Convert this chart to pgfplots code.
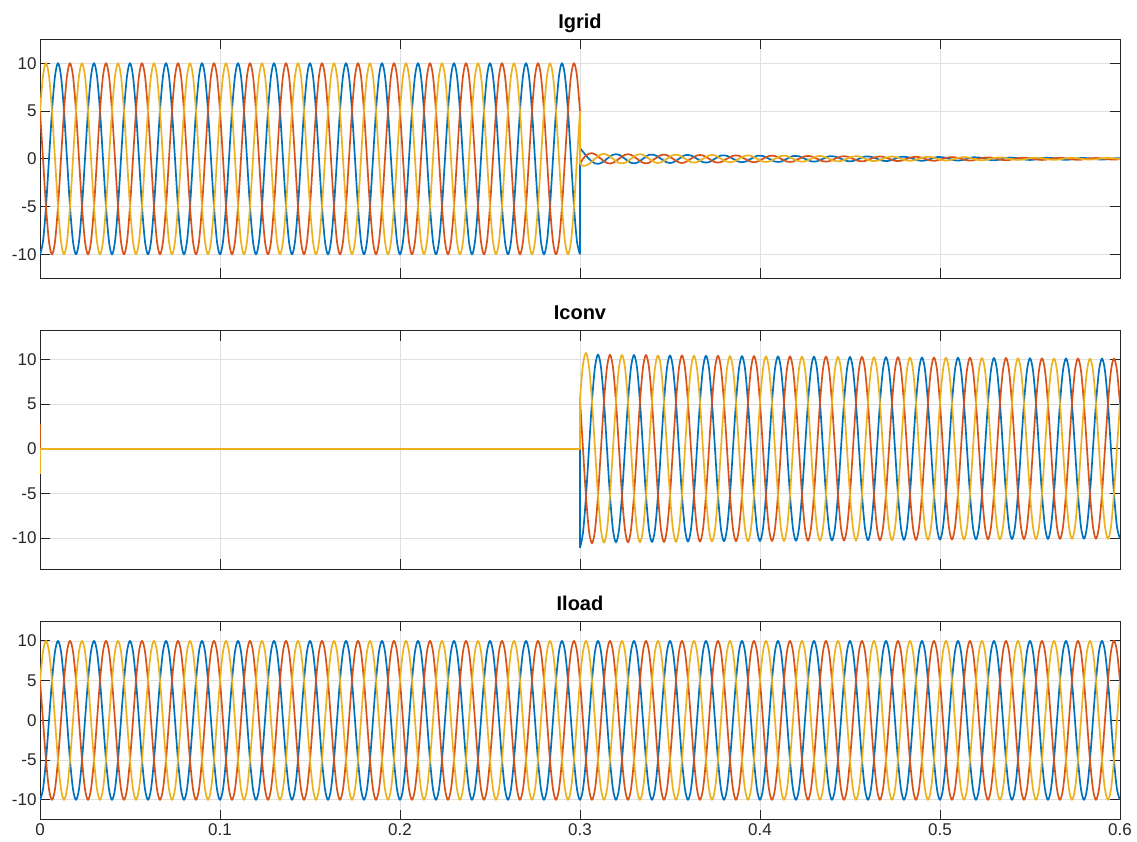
\documentclass[border=0pt]{standalone}
\usepackage{pgfplots}
\usepackage{pgfplotstable}
\pgfplotsset{compat=1.18}
\usepackage{fontspec}
\setmainfont{Liberation Sans}
\definecolor{mblue}{rgb}{0,0.447,0.741}
\definecolor{mred}{rgb}{0.85,0.325,0.098}
\definecolor{myel}{rgb}{0.929,0.694,0.125}
\definecolor{gridgray}{rgb}{0.875,0.875,0.875}
\definecolor{axisgray}{rgb}{0.15,0.15,0.15}

% n = sample index, t = n/600 s ; columns b r y = phases a b c
\pgfplotstableread{
n b r y
0 -10 5 5
1 -8.66 0 8.66
2 -5 -5 10
3 0 -8.66 8.66
4 5 -10 5
5 8.66 -8.66 0
6 10 -5 -5
7 8.66 0 -8.66
8 5 5 -10
9 0 8.66 -8.66
10 -5 10 -5
11 -8.66 8.66 0
12 -10 5 5
13 -8.66 0 8.66
14 -5 -5 10
15 0 -8.66 8.66
16 5 -10 5
17 8.66 -8.66 0
18 10 -5 -5
19 8.66 0 -8.66
20 5 5 -10
21 0 8.66 -8.66
22 -5 10 -5
23 -8.66 8.66 0
24 -10 5 5
25 -8.66 0 8.66
26 -5 -5 10
27 0 -8.66 8.66
28 5 -10 5
29 8.66 -8.66 0
30 10 -5 -5
31 8.66 0 -8.66
32 5 5 -10
33 0 8.66 -8.66
34 -5 10 -5
35 -8.66 8.66 0
36 -10 5 5
37 -8.66 0 8.66
38 -5 -5 10
39 0 -8.66 8.66
40 5 -10 5
41 8.66 -8.66 0
42 10 -5 -5
43 8.66 0 -8.66
44 5 5 -10
45 0 8.66 -8.66
46 -5 10 -5
47 -8.66 8.66 0
48 -10 5 5
49 -8.66 0 8.66
50 -5 -5 10
51 0 -8.66 8.66
52 5 -10 5
53 8.66 -8.66 0
54 10 -5 -5
55 8.66 0 -8.66
56 5 5 -10
57 0 8.66 -8.66
58 -5 10 -5
59 -8.66 8.66 0
60 -10 5 5
61 -8.66 0 8.66
62 -5 -5 10
63 0 -8.66 8.66
64 5 -10 5
65 8.66 -8.66 0
66 10 -5 -5
67 8.66 0 -8.66
68 5 5 -10
69 0 8.66 -8.66
70 -5 10 -5
71 -8.66 8.66 0
72 -10 5 5
73 -8.66 0 8.66
74 -5 -5 10
75 0 -8.66 8.66
76 5 -10 5
77 8.66 -8.66 0
78 10 -5 -5
79 8.66 0 -8.66
80 5 5 -10
81 0 8.66 -8.66
82 -5 10 -5
83 -8.66 8.66 0
84 -10 5 5
85 -8.66 0 8.66
86 -5 -5 10
87 0 -8.66 8.66
88 5 -10 5
89 8.66 -8.66 0
90 10 -5 -5
91 8.66 0 -8.66
92 5 5 -10
93 0 8.66 -8.66
94 -5 10 -5
95 -8.66 8.66 0
96 -10 5 5
97 -8.66 0 8.66
98 -5 -5 10
99 0 -8.66 8.66
100 5 -10 5
101 8.66 -8.66 0
102 10 -5 -5
103 8.66 0 -8.66
104 5 5 -10
105 0 8.66 -8.66
106 -5 10 -5
107 -8.66 8.66 0
108 -10 5 5
109 -8.66 0 8.66
110 -5 -5 10
111 0 -8.66 8.66
112 5 -10 5
113 8.66 -8.66 0
114 10 -5 -5
115 8.66 0 -8.66
116 5 5 -10
117 0 8.66 -8.66
118 -5 10 -5
119 -8.66 8.66 0
120 -10 5 5
121 -8.66 0 8.66
122 -5 -5 10
123 0 -8.66 8.66
124 5 -10 5
125 8.66 -8.66 0
126 10 -5 -5
127 8.66 0 -8.66
128 5 5 -10
129 0 8.66 -8.66
130 -5 10 -5
131 -8.66 8.66 0
132 -10 5 5
133 -8.66 0 8.66
134 -5 -5 10
135 0 -8.66 8.66
136 5 -10 5
137 8.66 -8.66 0
138 10 -5 -5
139 8.66 0 -8.66
140 5 5 -10
141 0 8.66 -8.66
142 -5 10 -5
143 -8.66 8.66 0
144 -10 5 5
145 -8.66 0 8.66
146 -5 -5 10
147 0 -8.66 8.66
148 5 -10 5
149 8.66 -8.66 0
150 10 -5 -5
151 8.66 0 -8.66
152 5 5 -10
153 0 8.66 -8.66
154 -5 10 -5
155 -8.66 8.66 0
156 -10 5 5
157 -8.66 0 8.66
158 -5 -5 10
159 0 -8.66 8.66
160 5 -10 5
161 8.66 -8.66 0
162 10 -5 -5
163 8.66 0 -8.66
164 5 5 -10
165 0 8.66 -8.66
166 -5 10 -5
167 -8.66 8.66 0
168 -10 5 5
169 -8.66 0 8.66
170 -5 -5 10
171 0 -8.66 8.66
172 5 -10 5
173 8.66 -8.66 0
174 10 -5 -5
175 8.66 0 -8.66
176 5 5 -10
177 0 8.66 -8.66
178 -5 10 -5
179 -8.66 8.66 0
180 -10 5 5
181 -8.66 0 8.66
182 -5 -5 10
183 0 -8.66 8.66
184 5 -10 5
185 8.66 -8.66 0
186 10 -5 -5
187 8.66 0 -8.66
188 5 5 -10
189 0 8.66 -8.66
190 -5 10 -5
191 -8.66 8.66 0
192 -10 5 5
193 -8.66 0 8.66
194 -5 -5 10
195 0 -8.66 8.66
196 5 -10 5
197 8.66 -8.66 0
198 10 -5 -5
199 8.66 0 -8.66
200 5 5 -10
201 0 8.66 -8.66
202 -5 10 -5
203 -8.66 8.66 0
204 -10 5 5
205 -8.66 0 8.66
206 -5 -5 10
207 0 -8.66 8.66
208 5 -10 5
209 8.66 -8.66 0
210 10 -5 -5
211 8.66 0 -8.66
212 5 5 -10
213 0 8.66 -8.66
214 -5 10 -5
215 -8.66 8.66 0
216 -10 5 5
217 -8.66 0 8.66
218 -5 -5 10
219 0 -8.66 8.66
220 5 -10 5
221 8.66 -8.66 0
222 10 -5 -5
223 8.66 0 -8.66
224 5 5 -10
225 0 8.66 -8.66
226 -5 10 -5
227 -8.66 8.66 0
228 -10 5 5
229 -8.66 0 8.66
230 -5 -5 10
231 0 -8.66 8.66
232 5 -10 5
233 8.66 -8.66 0
234 10 -5 -5
235 8.66 0 -8.66
236 5 5 -10
237 0 8.66 -8.66
238 -5 10 -5
239 -8.66 8.66 0
240 -10 5 5
241 -8.66 0 8.66
242 -5 -5 10
243 0 -8.66 8.66
244 5 -10 5
245 8.66 -8.66 0
246 10 -5 -5
247 8.66 0 -8.66
248 5 5 -10
249 0 8.66 -8.66
250 -5 10 -5
251 -8.66 8.66 0
252 -10 5 5
253 -8.66 0 8.66
254 -5 -5 10
255 0 -8.66 8.66
256 5 -10 5
257 8.66 -8.66 0
258 10 -5 -5
259 8.66 0 -8.66
260 5 5 -10
261 0 8.66 -8.66
262 -5 10 -5
263 -8.66 8.66 0
264 -10 5 5
265 -8.66 0 8.66
266 -5 -5 10
267 0 -8.66 8.66
268 5 -10 5
269 8.66 -8.66 0
270 10 -5 -5
271 8.66 0 -8.66
272 5 5 -10
273 0 8.66 -8.66
274 -5 10 -5
275 -8.66 8.66 0
276 -10 5 5
277 -8.66 0 8.66
278 -5 -5 10
279 0 -8.66 8.66
280 5 -10 5
281 8.66 -8.66 0
282 10 -5 -5
283 8.66 0 -8.66
284 5 5 -10
285 0 8.66 -8.66
286 -5 10 -5
287 -8.66 8.66 0
288 -10 5 5
289 -8.66 0 8.66
290 -5 -5 10
291 0 -8.66 8.66
292 5 -10 5
293 8.66 -8.66 0
294 10 -5 -5
295 8.66 0 -8.66
296 5 5 -10
297 0 8.66 -8.66
298 -5 10 -5
299 -8.66 8.66 0
300 -10 5 5
301 -8.66 0 8.66
302 -5 -5 10
303 0 -8.66 8.66
304 5 -10 5
305 8.66 -8.66 0
306 10 -5 -5
307 8.66 0 -8.66
308 5 5 -10
309 0 8.66 -8.66
310 -5 10 -5
311 -8.66 8.66 0
312 -10 5 5
313 -8.66 0 8.66
314 -5 -5 10
315 0 -8.66 8.66
316 5 -10 5
317 8.66 -8.66 0
318 10 -5 -5
319 8.66 0 -8.66
320 5 5 -10
321 0 8.66 -8.66
322 -5 10 -5
323 -8.66 8.66 0
324 -10 5 5
325 -8.66 0 8.66
326 -5 -5 10
327 0 -8.66 8.66
328 5 -10 5
329 8.66 -8.66 0
330 10 -5 -5
331 8.66 0 -8.66
332 5 5 -10
333 0 8.66 -8.66
334 -5 10 -5
335 -8.66 8.66 0
336 -10 5 5
337 -8.66 0 8.66
338 -5 -5 10
339 0 -8.66 8.66
340 5 -10 5
341 8.66 -8.66 0
342 10 -5 -5
343 8.66 0 -8.66
344 5 5 -10
345 0 8.66 -8.66
346 -5 10 -5
347 -8.66 8.66 0
348 -10 5 5
349 -8.66 0 8.66
350 -5 -5 10
351 0 -8.66 8.66
352 5 -10 5
353 8.66 -8.66 0
354 10 -5 -5
355 8.66 0 -8.66
356 5 5 -10
357 0 8.66 -8.66
358 -5 10 -5
359 -8.66 8.66 0
360 -10 5 5
}\load

% after switching at t = 0.3 s : grid current (gb gr gy) and converter current (cb cr cy)
\pgfplotstableread{
n gb gr gy cb cr cy
180 1.1 -0.55 -0.55 -11.1 5.55 5.55
181 0.74 0 -0.74 -9.40 0 9.40
182 0.35 0.35 -0.7 -5.35 -5.35 10.7
183 0 0.54 -0.54 0 -9.20 9.20
184 -0.29 0.58 -0.29 5.29 -10.58 5.29
185 -0.48 0.48 0 9.14 -9.14 0
186 -0.53 0.27 0.27 10.53 -5.27 -5.27
187 -0.45 0 0.45 9.11 0 -9.11
188 -0.26 -0.26 0.51 5.26 5.26 -10.51
189 0 -0.43 0.43 0 9.09 -9.09
190 0.25 -0.5 0.25 -5.25 10.5 -5.25
191 0.42 -0.42 0 -9.08 9.08 0
192 0.48 -0.24 -0.24 -10.48 5.24 5.24
193 0.42 0 -0.42 -9.08 0 9.08
194 0.24 0.24 -0.48 -5.24 -5.24 10.48
195 0 0.42 -0.42 0 -9.08 9.08
196 -0.24 0.48 -0.24 5.24 -10.48 5.24
197 -0.42 0.42 0 9.08 -9.08 0
198 -0.48 0.24 0.24 10.48 -5.24 -5.24
199 -0.42 0 0.42 9.08 0 -9.08
200 -0.24 -0.24 0.48 5.24 5.24 -10.48
201 0 -0.42 0.42 0 9.08 -9.08
202 0.24 -0.48 0.24 -5.24 10.48 -5.24
203 0.42 -0.42 0 -9.08 9.08 0
204 0.44 -0.22 -0.22 -10.44 5.22 5.22
205 0.38 0 -0.38 -9.04 0 9.04
206 0.22 0.22 -0.44 -5.22 -5.22 10.44
207 0 0.38 -0.38 0 -9.04 9.04
208 -0.22 0.44 -0.22 5.22 -10.44 5.22
209 -0.38 0.38 0 9.04 -9.04 0
210 -0.44 0.22 0.22 10.44 -5.22 -5.22
211 -0.38 0 0.38 9.04 0 -9.04
212 -0.22 -0.22 0.44 5.22 5.22 -10.44
213 0 -0.38 0.38 0 9.04 -9.04
214 0.22 -0.44 0.22 -5.22 10.44 -5.22
215 0.38 -0.38 0 -9.04 9.04 0
216 0.40 -0.20 -0.20 -10.40 5.20 5.20
217 0.35 0 -0.35 -9.01 0 9.01
218 0.20 0.20 -0.40 -5.20 -5.20 10.40
219 0 0.35 -0.35 0 -9.01 9.01
220 -0.20 0.40 -0.20 5.20 -10.40 5.20
221 -0.35 0.35 0 9.01 -9.01 0
222 -0.40 0.20 0.20 10.40 -5.20 -5.20
223 -0.35 0 0.35 9.01 0 -9.01
224 -0.20 -0.20 0.40 5.20 5.20 -10.40
225 0 -0.35 0.35 0 9.01 -9.01
226 0.20 -0.40 0.20 -5.20 10.40 -5.20
227 0.35 -0.35 0 -9.01 9.01 0
228 0.36 -0.18 -0.18 -10.36 5.18 5.18
229 0.31 0 -0.31 -8.97 0 8.97
230 0.18 0.18 -0.36 -5.18 -5.18 10.36
231 0 0.31 -0.31 0 -8.97 8.97
232 -0.18 0.36 -0.18 5.18 -10.36 5.18
233 -0.31 0.31 0 8.97 -8.97 0
234 -0.36 0.18 0.18 10.36 -5.18 -5.18
235 -0.31 0 0.31 8.97 0 -8.97
236 -0.18 -0.18 0.36 5.18 5.18 -10.36
237 0 -0.31 0.31 0 8.97 -8.97
238 0.18 -0.36 0.18 -5.18 10.36 -5.18
239 0.31 -0.31 0 -8.97 8.97 0
240 0.33 -0.17 -0.17 -10.33 5.17 5.17
241 0.29 0 -0.29 -8.95 0 8.95
242 0.17 0.17 -0.33 -5.17 -5.17 10.33
243 0 0.29 -0.29 0 -8.95 8.95
244 -0.17 0.33 -0.17 5.17 -10.33 5.17
245 -0.29 0.29 0 8.95 -8.95 0
246 -0.33 0.17 0.17 10.33 -5.17 -5.17
247 -0.29 0 0.29 8.95 0 -8.95
248 -0.17 -0.17 0.33 5.17 5.17 -10.33
249 0 -0.29 0.29 0 8.95 -8.95
250 0.17 -0.33 0.17 -5.17 10.33 -5.17
251 0.29 -0.29 0 -8.95 8.95 0
252 0.30 -0.15 -0.15 -10.30 5.15 5.15
253 0.26 0 -0.26 -8.92 0 8.92
254 0.15 0.15 -0.30 -5.15 -5.15 10.30
255 0 0.26 -0.26 0 -8.92 8.92
256 -0.15 0.30 -0.15 5.15 -10.30 5.15
257 -0.26 0.26 0 8.92 -8.92 0
258 -0.30 0.15 0.15 10.30 -5.15 -5.15
259 -0.26 0 0.26 8.92 0 -8.92
260 -0.15 -0.15 0.30 5.15 5.15 -10.30
261 0 -0.26 0.26 0 8.92 -8.92
262 0.15 -0.30 0.15 -5.15 10.30 -5.15
263 0.26 -0.26 0 -8.92 8.92 0
264 0.27 -0.14 -0.14 -10.27 5.14 5.14
265 0.23 0 -0.23 -8.89 0 8.89
266 0.14 0.14 -0.27 -5.14 -5.14 10.27
267 0 0.23 -0.23 0 -8.89 8.89
268 -0.14 0.27 -0.14 5.14 -10.27 5.14
269 -0.23 0.23 0 8.89 -8.89 0
270 -0.27 0.14 0.14 10.27 -5.14 -5.14
271 -0.23 0 0.23 8.89 0 -8.89
272 -0.14 -0.14 0.27 5.14 5.14 -10.27
273 0 -0.23 0.23 0 8.89 -8.89
274 0.14 -0.27 0.14 -5.14 10.27 -5.14
275 0.23 -0.23 0 -8.89 8.89 0
276 0.24 -0.12 -0.12 -10.24 5.12 5.12
277 0.21 0 -0.21 -8.87 0 8.87
278 0.12 0.12 -0.24 -5.12 -5.12 10.24
279 0 0.21 -0.21 0 -8.87 8.87
280 -0.12 0.24 -0.12 5.12 -10.24 5.12
281 -0.21 0.21 0 8.87 -8.87 0
282 -0.24 0.12 0.12 10.24 -5.12 -5.12
283 -0.21 0 0.21 8.87 0 -8.87
284 -0.12 -0.12 0.24 5.12 5.12 -10.24
285 0 -0.21 0.21 0 8.87 -8.87
286 0.12 -0.24 0.12 -5.12 10.24 -5.12
287 0.21 -0.21 0 -8.87 8.87 0
288 0.21 -0.11 -0.11 -10.21 5.11 5.11
289 0.18 0 -0.18 -8.84 0 8.84
290 0.11 0.11 -0.21 -5.11 -5.11 10.21
291 0 0.18 -0.18 0 -8.84 8.84
292 -0.11 0.21 -0.11 5.11 -10.21 5.11
293 -0.18 0.18 0 8.84 -8.84 0
294 -0.21 0.11 0.11 10.21 -5.11 -5.11
295 -0.18 0 0.18 8.84 0 -8.84
296 -0.11 -0.11 0.21 5.11 5.11 -10.21
297 0 -0.18 0.18 0 8.84 -8.84
298 0.11 -0.21 0.11 -5.11 10.21 -5.11
299 0.18 -0.18 0 -8.84 8.84 0
300 0.18 -0.09 -0.09 -10.18 5.09 5.09
301 0.16 0 -0.16 -8.82 0 8.82
302 0.09 0.09 -0.18 -5.09 -5.09 10.18
303 0 0.16 -0.16 0 -8.82 8.82
304 -0.09 0.18 -0.09 5.09 -10.18 5.09
305 -0.16 0.16 0 8.82 -8.82 0
306 -0.18 0.09 0.09 10.18 -5.09 -5.09
307 -0.16 0 0.16 8.82 0 -8.82
308 -0.09 -0.09 0.18 5.09 5.09 -10.18
309 0 -0.16 0.16 0 8.82 -8.82
310 0.09 -0.18 0.09 -5.09 10.18 -5.09
311 0.16 -0.16 0 -8.82 8.82 0
312 0.15 -0.08 -0.08 -10.15 5.08 5.08
313 0.13 0 -0.13 -8.79 0 8.79
314 0.08 0.08 -0.15 -5.08 -5.08 10.15
315 0 0.13 -0.13 0 -8.79 8.79
316 -0.08 0.15 -0.08 5.08 -10.15 5.08
317 -0.13 0.13 0 8.79 -8.79 0
318 -0.15 0.08 0.08 10.15 -5.08 -5.08
319 -0.13 0 0.13 8.79 0 -8.79
320 -0.08 -0.08 0.15 5.08 5.08 -10.15
321 0 -0.13 0.13 0 8.79 -8.79
322 0.08 -0.15 0.08 -5.08 10.15 -5.08
323 0.13 -0.13 0 -8.79 8.79 0
324 0.12 -0.06 -0.06 -10.12 5.06 5.06
325 0.10 0 -0.10 -8.76 0 8.76
326 0.06 0.06 -0.12 -5.06 -5.06 10.12
327 0 0.10 -0.10 0 -8.76 8.76
328 -0.06 0.12 -0.06 5.06 -10.12 5.06
329 -0.10 0.10 0 8.76 -8.76 0
330 -0.12 0.06 0.06 10.12 -5.06 -5.06
331 -0.10 0 0.10 8.76 0 -8.76
332 -0.06 -0.06 0.12 5.06 5.06 -10.12
333 0 -0.10 0.10 0 8.76 -8.76
334 0.06 -0.12 0.06 -5.06 10.12 -5.06
335 0.10 -0.10 0 -8.76 8.76 0
336 0.10 -0.05 -0.05 -10.10 5.05 5.05
337 0.09 0 -0.09 -8.75 0 8.75
338 0.05 0.05 -0.10 -5.05 -5.05 10.10
339 0 0.09 -0.09 0 -8.75 8.75
340 -0.05 0.10 -0.05 5.05 -10.10 5.05
341 -0.09 0.09 0 8.75 -8.75 0
342 -0.10 0.05 0.05 10.10 -5.05 -5.05
343 -0.09 0 0.09 8.75 0 -8.75
344 -0.05 -0.05 0.10 5.05 5.05 -10.10
345 0 -0.09 0.09 0 8.75 -8.75
346 0.05 -0.10 0.05 -5.05 10.10 -5.05
347 0.09 -0.09 0 -8.75 8.75 0
348 0.08 -0.04 -0.04 -10.08 5.04 5.04
349 0.07 0 -0.07 -8.73 0 8.73
350 0.04 0.04 -0.08 -5.04 -5.04 10.08
351 0 0.07 -0.07 0 -8.73 8.73
352 -0.04 0.08 -0.04 5.04 -10.08 5.04
353 -0.07 0.07 0 8.73 -8.73 0
354 -0.08 0.04 0.04 10.08 -5.04 -5.04
355 -0.07 0 0.07 8.73 0 -8.73
356 -0.04 -0.04 0.08 5.04 5.04 -10.08
357 0 -0.07 0.07 0 8.73 -8.73
358 0.04 -0.08 0.04 -5.04 10.08 -5.04
359 0.07 -0.07 0 -8.73 8.73 0
360 0.06 -0.03 -0.03 -10.06 5.03 5.03
}\after

\pgfplotsset{
  mlab/.style={
    scale only axis, width=1080pt, anchor=north west,
    xmin=0, xmax=360, xtick={0,60,120,180,240,300,360},
    ytick={-10,-5,0,5,10}, yticklabels={-10,-5,0,5,10},
    tick align=inside, major tick length=10pt,
    grid=major, grid style={color=gridgray, line width=0.7pt},
    axis line style={color=axisgray, line width=0.9pt},
    every tick/.style={color=axisgray, line width=0.9pt},
    tick label style={font=\fontsize{17}{20}\selectfont, color=axisgray},
    /pgf/number format/assume math mode=true,
    title style={font=\fontsize{20}{23}\selectfont\bfseries, color=black, at={(0.5,1)}, anchor=base, yshift=5pt, inner sep=0pt},
    every axis plot/.append style={line width=1.7pt, line join=round},
  }
}

\begin{document}
\begin{tikzpicture}
\path[use as bounding box] (0,0) rectangle (1137pt,-842pt);

% ---------- Igrid ----------
\begin{axis}[mlab, at={(40pt,-39.3pt)}, height=239pt, ymin=-12.5, ymax=12.5,
  xticklabels={}, title={Igrid}]
\addplot[mblue, smooth, skip coords between index={181}{361}] table[x=n, y=b] {\load};
\addplot[mblue] coordinates {(180,-10) (180,1.1)};
\addplot[mblue, smooth] table[x=n, y=gb] {\after};
\addplot[mred, smooth, skip coords between index={181}{361}] table[x=n, y=r] {\load};
\addplot[mred] coordinates {(180,5) (180,-0.55)};
\addplot[mred, smooth] table[x=n, y=gr] {\after};
\addplot[myel, smooth, skip coords between index={181}{361}] table[x=n, y=y] {\load};
\addplot[myel] coordinates {(180,5) (180,-0.55)};
\addplot[myel, smooth] table[x=n, y=gy] {\after};
\end{axis}

% ---------- Iconv ----------
\begin{axis}[mlab, at={(40pt,-330.7pt)}, height=238.6pt, ymin=-13.5, ymax=13.2,
  xticklabels={}, title={Iconv}]
\addplot[mblue] coordinates {(0,0) (180,0) (180,-11.1)};
\addplot[mblue, smooth] table[x=n, y=cb] {\after};
\addplot[mred] coordinates {(0,2.8) (0,0) (180,0) (180,5.55)};
\addplot[mred, smooth] table[x=n, y=cr] {\after};
\addplot[myel] coordinates {(0,-2.8) (0,0) (180,0) (180,5.55)};
\addplot[myel, smooth] table[x=n, y=cy] {\after};
\end{axis}

% ---------- Iload ----------
\begin{axis}[mlab, at={(40pt,-621pt)}, height=198.7pt, ymin=-12.5, ymax=12.5,
  xticklabels={0,0.1,0.2,0.3,0.4,0.5,0.6}, title={Iload}]
\addplot[mblue, smooth] table[x=n, y=b] {\load};
\addplot[mred, smooth] table[x=n, y=r] {\load};
\addplot[myel, smooth] table[x=n, y=y] {\load};
\end{axis}
\end{tikzpicture}
\end{document}
